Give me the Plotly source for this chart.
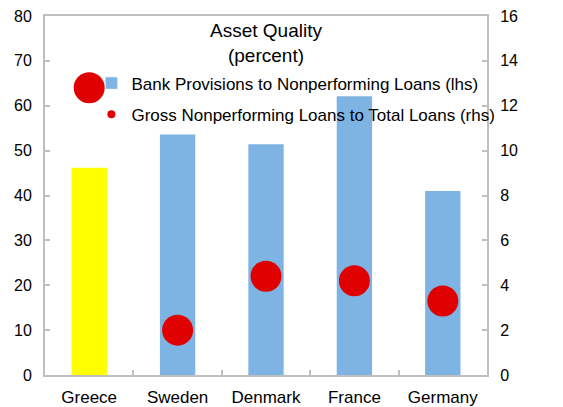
import plotly.graph_objects as go

categories = ["Greece", "Sweden", "Denmark", "France", "Germany"]
provisions = [46.2, 53.6, 51.4, 62.1, 41.0]
npl = [12.8, 2.0, 4.4, 4.2, 3.3]
bar_colors = ["#FFFF00", "#7EB4E4", "#7EB4E4", "#7EB4E4", "#7EB4E4"]
left_ticks = [0, 10, 20, 30, 40, 50, 60, 70, 80]
right_ticks = [0, 2, 4, 6, 8, 10, 12, 14, 16]

FONT = "Liberation Sans, Arial, sans-serif"
GRAY = "#BFBFBF"
RED = "#E00000"

fig = go.Figure()
fig.add_trace(go.Bar(
    x=categories, y=provisions, marker=dict(color=bar_colors, line=dict(width=0)),
    name="Bank Provisions to Nonperforming Loans (lhs)", showlegend=False))
# legend-only proxies
fig.add_trace(go.Bar(
    x=[None], y=[None], marker=dict(color="#7EB4E4"), legendgroup="a",
    name="Bank Provisions to Nonperforming Loans (lhs)"))
fig.add_trace(go.Scatter(
    x=categories, y=npl, yaxis="y2", mode="markers",
    marker=dict(color=RED, size=31), showlegend=False,
    name="Gross Nonperforming Loans to Total Loans (rhs)"))
fig.add_trace(go.Scatter(
    x=[None], y=[None], yaxis="y2", mode="markers", legendgroup="b",
    marker=dict(color=RED, size=8),
    name="Gross Nonperforming Loans to Total Loans (rhs)"))

fig.update_layout(
    width=563, height=407,
    margin=dict(l=45, r=76, t=16, b=32),
    paper_bgcolor="white", plot_bgcolor="white",
    font=dict(family=FONT, size=16, color="black"),
    bargap=0.6,
    showlegend=True,
    legend=dict(x=0.105, y=0.862, xanchor="left", yanchor="top",
                bgcolor="rgba(0,0,0,0)", font=dict(size=17),
                itemwidth=30, tracegroupgap=6),
    xaxis=dict(showline=True, linecolor=GRAY, linewidth=2, mirror=True, automargin=False,
               ticks="inside", tickson="boundaries", ticklen=5, tickcolor=GRAY, tickwidth=2,
               showgrid=False, tickfont=dict(size=17), ticklabelstandoff=6),
    yaxis=dict(range=[0, 80], tickvals=left_ticks, showline=True, linecolor=GRAY, linewidth=2,
               ticks="inside", ticklen=5, tickcolor=GRAY, tickwidth=2, showgrid=False,
               automargin=False,
               zeroline=False, ticklabelstandoff=8, tickfont=dict(size=16)),
    yaxis2=dict(range=[0, 16], tickvals=right_ticks, overlaying="y", side="right",
                showline=True, linecolor=GRAY, linewidth=2, automargin=False,
                ticks="inside", ticklen=5, tickcolor=GRAY, tickwidth=2, showgrid=False,
                zeroline=False, ticklabelstandoff=8, tickfont=dict(size=16)),
    annotations=[dict(text="Asset Quality<br>(percent)", x=0.5, y=0.995, xref="paper", yref="paper",
                      xanchor="center", yanchor="top", showarrow=False,
                      font=dict(size=19, family=FONT))],
)

fig.write_html("out.html", config={"displayModeBar": False},
               post_script="document.body.style.margin='0';")
